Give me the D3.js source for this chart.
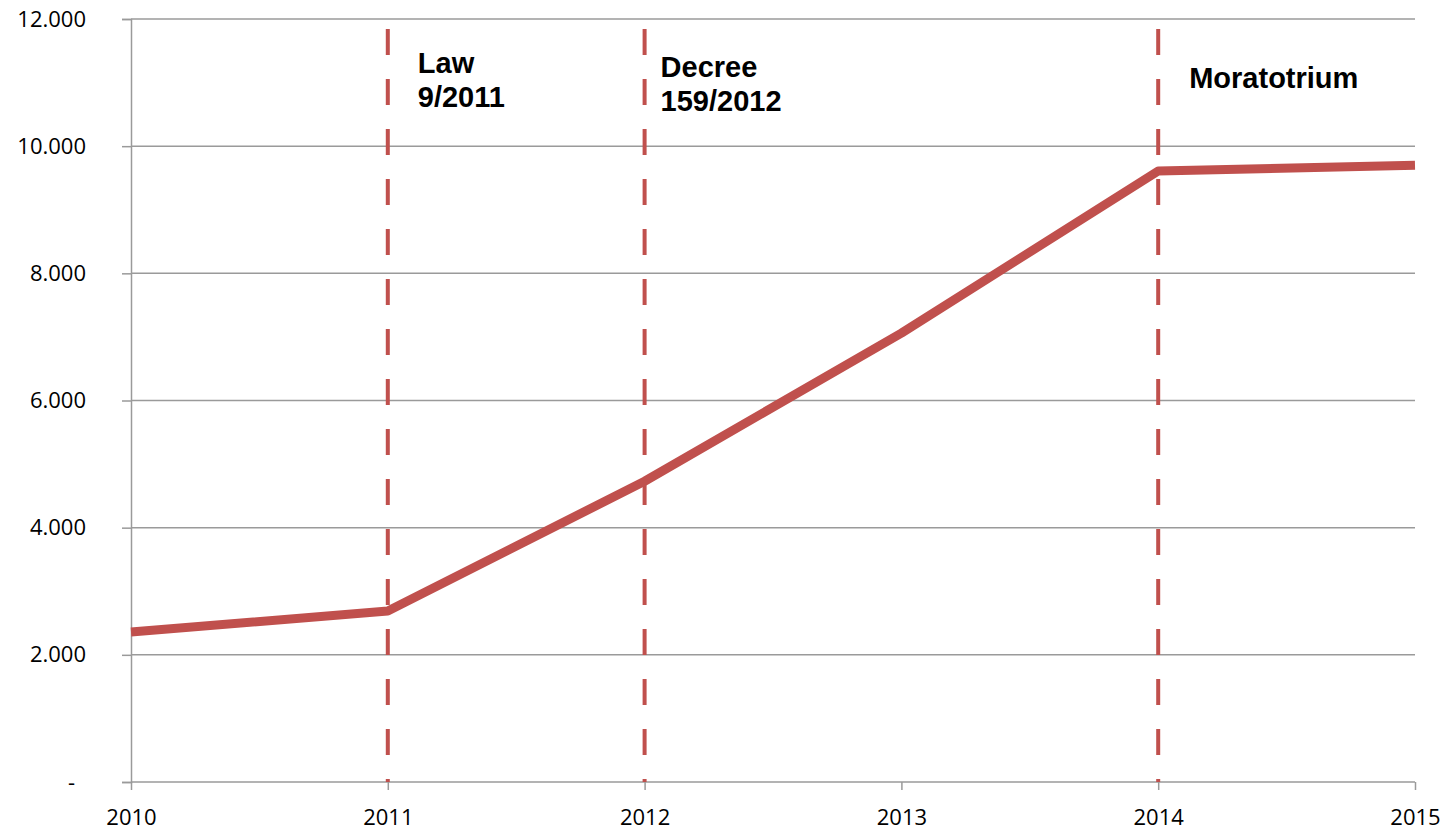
<!DOCTYPE html>
<html>
<head>
<meta charset="utf-8">
<script src="https://cdn.jsdelivr.net/npm/d3@7"></script>
<style>
  body { margin: 0; background: #fff; }
  .axis text { font-family: "Open Sans", "Liberation Sans", sans-serif; font-size: 22px; fill: #000; }
  .axis path, .axis line { stroke: #9a9a9a; stroke-width: 1.5; }
  .grid line { stroke: #9a9a9a; stroke-width: 1.5; }
  .note { font-family: "Liberation Sans", Arial, sans-serif; font-weight: bold; font-size: 29px; fill: #000; }
</style>
</head>
<body>
<div id="chart"></div>
<script>
// chart values
const years = [2010, 2011, 2012, 2013, 2014, 2015];
const values = [2360, 2690, 4730, 7060, 9610, 9700];
const yTicks = [0, 2000, 4000, 6000, 8000, 10000, 12000];
const eventYears = [2011, 2012, 2014];
const eventLabels = [["Law", "9/2011"], ["Decree", "159/2012"], ["Moratotrium"]];

const W = 1451, H = 831;
const margin = {top: 19, right: 36, bottom: 49, left: 131};
const width = W - margin.left - margin.right;
const height = H - margin.top - margin.bottom;

const svg = d3.select("#chart").append("svg")
  .attr("width", W)
  .attr("height", H)
  .append("g")
  .attr("transform", "translate(" + margin.left + "," + margin.top + ")");

const x = d3.scaleLinear().domain([2010, 2015]).range([0, width]);
const y = d3.scaleLinear().domain([0, 12000]).range([height, 0]);

const fmt = d => d === 0 ? "-" : d3.format(",")(d).replace(/,/g, ".");

// horizontal gridlines
svg.append("g")
  .attr("class", "grid")
  .selectAll("line")
  .data(yTicks.slice(1))
  .join("line")
  .attr("x1", 0)
  .attr("x2", width)
  .attr("y1", d => y(d))
  .attr("y2", d => y(d));

// y axis
const yAxis = svg.append("g")
  .attr("class", "axis")
  .call(d3.axisLeft(y).tickValues(yTicks).tickFormat(fmt).tickSize(9).tickPadding(36));
yAxis.selectAll(".tick text").attr("dx", d => d === 0 ? -11 : 0);

// x axis
svg.append("g")
  .attr("class", "axis")
  .attr("transform", "translate(0," + height + ")")
  .call(d3.axisBottom(x).tickValues(years).tickFormat(d3.format("d")).tickSize(8).tickPadding(19))
  .call(g => g.select(".domain").attr("d", "M0,0H" + width));

// event markers
svg.append("g")
  .selectAll("line")
  .data(eventYears)
  .join("line")
  .attr("x1", d => x(d))
  .attr("x2", d => x(d))
  .attr("y1", 10)
  .attr("y2", height)
  .attr("stroke", "#c0504d")
  .attr("stroke-width", 4)
  .attr("stroke-dasharray", "26,24");

// main series
const line = d3.line()
  .x((d, i) => x(years[i]))
  .y(d => y(d));

svg.append("path")
  .datum(values)
  .attr("fill", "none")
  .attr("stroke", "#c0504d")
  .attr("stroke-width", 9)
  .attr("stroke-linejoin", "round")
  .attr("d", line);

// event labels
const labelDx = [30, 16, 31];
const labelY = [54, 58, 69];
eventLabels.forEach((lines, i) => {
  const t = svg.append("text")
    .attr("class", "note")
    .attr("x", x(eventYears[i]) + labelDx[i])
    .attr("y", labelY[i]);
  lines.forEach((s, j) => {
    t.append("tspan")
      .attr("x", x(eventYears[i]) + labelDx[i])
      .attr("dy", j === 0 ? 0 : 34)
      .text(s);
  });
});
</script>
</body>
</html>
